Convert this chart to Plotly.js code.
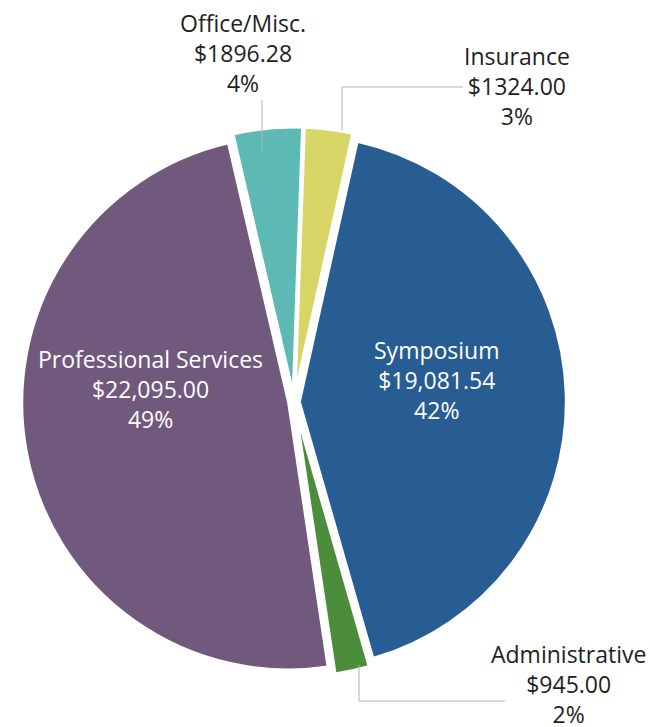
<!DOCTYPE html>
<html>
<head>
<meta charset="utf-8">
<script src="https://cdn.plot.ly/plotly-3.0.1.min.js"></script>
<style>html,body{margin:0;padding:0;background:#fff;}#chart{width:650px;height:727px;}</style>
</head>
<body>
<div id="chart"></div>
<script>
// Data (clockwise from 12 o'clock)
const categories = ["Insurance", "Symposium", "Administrative", "Professional Services", "Office/Misc."];
const amounts = [1324.00, 19081.54, 945.00, 22095.00, 1896.28];
const amountLabels = ["$1324.00", "$19,081.54", "$945.00", "$22,095.00", "$1896.28"];
const colors = ["#d6d565", "#285d93", "#4c8d3b", "#70597c", "#5cb9b3"];

const total = amounts.reduce((a, b) => a + b, 0);
const percents = amounts.map(v => Math.round(v / total * 100) + "%");

const W = 650, H = 727;
const px = x => x / W;
const py = y => 1 - y / H;

// label placement (pixels) and text colour
const labelPos = [
  {x: 517, y: 86, c: "#231f20"},
  {x: 437, y: 380, c: "#ffffff"},
  {x: 568, y: 684, c: "#231f20"},
  {x: 150, y: 389, c: "#ffffff"},
  {x: 243, y: 53, c: "#231f20"}
];

const annotations = categories.map((c, i) => ({
  xref: "paper", yref: "paper",
  x: px(labelPos[i].x), y: py(labelPos[i].y),
  xanchor: "center", yanchor: "middle",
  showarrow: false,
  align: "center",
  text: c + "<br>" + amountLabels[i] + "<br>" + percents[i],
  font: {family: "Open Sans, sans-serif", size: 23, color: labelPos[i].c}
}));

const lineStyle = {color: "#b3b3b3", width: 1};
const seg = (x0, y0, x1, y1) => ({type: "line", xref: "paper", yref: "paper",
  x0: px(x0), y0: py(y0), x1: px(x1), y1: py(y1), line: lineStyle});
const shapes = [
  seg(262, 100, 262, 152),
  seg(342, 130, 342, 87), seg(342, 87, 463, 87),
  seg(359, 665, 359, 701), seg(359, 701, 505, 701)
];

const cx = 294, cy = 402, half = 275;
const trace = {
  type: "pie",
  labels: categories,
  values: amounts,
  sort: false,
  direction: "clockwise",
  rotation: 2,
  textinfo: "none",
  hoverinfo: "label+value+percent",
  pull: [0.03, 0.02, 0.03, 0.02, 0.03],
  marker: {colors: colors, line: {color: "#ffffff", width: 3}},
  domain: {x: [px(cx - half), px(cx + half)], y: [py(cy + half), py(cy - half)]},
  showlegend: false
};

Plotly.newPlot("chart", [trace], {
  width: W, height: H,
  margin: {l: 0, r: 0, t: 0, b: 0},
  paper_bgcolor: "#ffffff",
  showlegend: false,
  annotations: annotations,
  shapes: shapes
}, {displayModeBar: false, staticPlot: true});
</script>
</body>
</html>
